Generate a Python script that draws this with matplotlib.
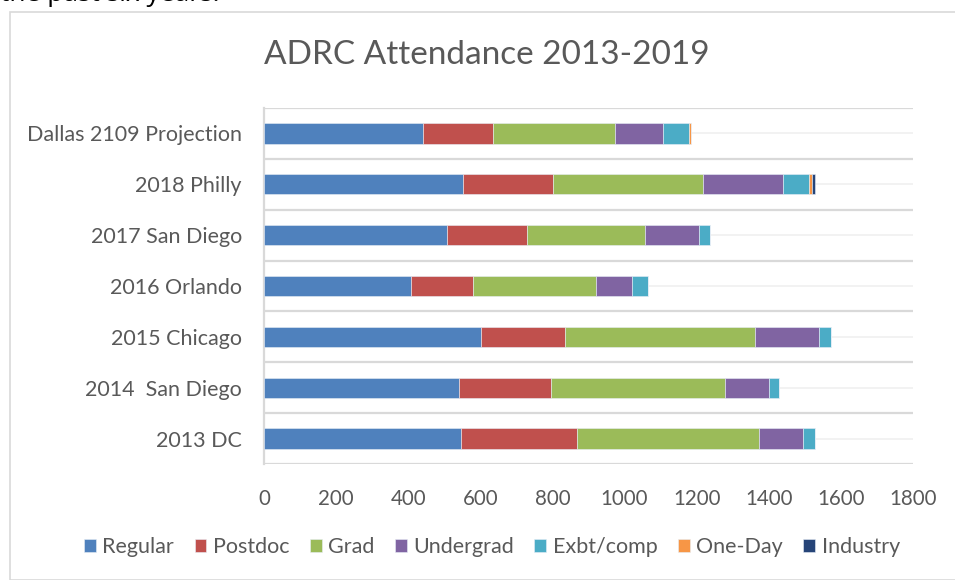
import matplotlib.pyplot as plt
from matplotlib.patches import Rectangle
import numpy as np

plt.rcParams['font.family'] = ['Lato', 'DejaVu Sans']

# categories from top to bottom
eventos = ['Dallas 2109 Projection', '2018 Philly', '2017 San Diego', '2016 Orlando',
           '2015 Chicago', '2014  San Diego', '2013 DC']

regular = [440, 551, 507, 407, 601, 540, 546]
postdoc = [194, 250, 222, 172, 233, 255, 321]
grad = [339, 416, 327, 343, 527, 483, 505]
undergrad = [133, 222, 150, 100, 177, 122, 122]
exbt_comp = [73, 73, 32, 44, 34, 28, 34]
one_day = [5, 9, 0, 0, 0, 0, 0]
industry = [0, 7, 0, 0, 0, 0, 0]

series = ['Regular', 'Postdoc', 'Grad', 'Undergrad', 'Exbt/comp', 'One-Day', 'Industry']
valores = [regular, postdoc, grad, undergrad, exbt_comp, one_day, industry]
cores = ['#4F81BD', '#C0504D', '#9BBB59', '#8064A2', '#4BACC6', '#F79646', '#264478']

cinza = '#595959'

fig = plt.figure(figsize=(9.55, 5.8), dpi=100)
fig.patches.append(Rectangle((10 / 955, 0), 1, 1 - 12 / 580, transform=fig.transFigure,
                             fill=False, edgecolor='#d9d9d9', linewidth=1.2))
fig.text(0.0, 1 - 1 / 580, 'the past six years.', fontsize=19, color='black',
         va='baseline', ha='left', family=['Open Sans', 'DejaVu Sans'])

ax = fig.add_axes([264 / 955, 116 / 580, 649 / 955, 356 / 580])

y = np.arange(len(eventos))
esquerda = np.zeros(len(eventos))
for nome, v, c in zip(series, valores, cores):
    ax.barh(y, v, 0.4, left=esquerda, color=c, label=nome, zorder=3,
            edgecolor='#e8eef6', linewidth=0.4)
    esquerda = esquerda + np.array(v)

ax.set_xlim(0, 1800)
ax.set_ylim(len(eventos) - 0.5, -0.5)
ax.set_xticks(np.arange(0, 1801, 200))
ax.set_yticks(y)
ax.set_yticklabels(eventos)
ax.set_yticks(np.arange(-0.5, len(eventos), 1), minor=True)

ax.grid(axis='y', which='minor', color='#d9d9d9', linewidth=1.6, zorder=0)
ax.grid(axis='y', which='major', color='#f0f0f0', linewidth=1.2, zorder=0)
ax.grid(axis='x', visible=False)

for s in ['top', 'right', 'bottom']:
    ax.spines[s].set_visible(False)
ax.spines['left'].set_color('#d9d9d9')
ax.spines['left'].set_linewidth(1.6)

ax.tick_params(axis='both', which='both', length=0, colors=cinza)
ax.tick_params(axis='y', pad=16, labelsize=15.5)
ax.tick_params(axis='x', pad=18, labelsize=14.8)

fig.text(487 / 955, 1 - 55 / 580, 'ADRC Attendance 2013-2019', fontsize=24, color=cinza,
         ha='center', va='center')

fig.legend(*ax.get_legend_handles_labels(), loc='center', bbox_to_anchor=(492 / 955, 1 - 547 / 580),
           ncol=7, frameon=False, fontsize=15.5, labelcolor=cinza, handlelength=0.55,
           handleheight=0.55, handletextpad=0.3, columnspacing=0.95, borderpad=0)

plt.savefig('out.png', dpi=100)
